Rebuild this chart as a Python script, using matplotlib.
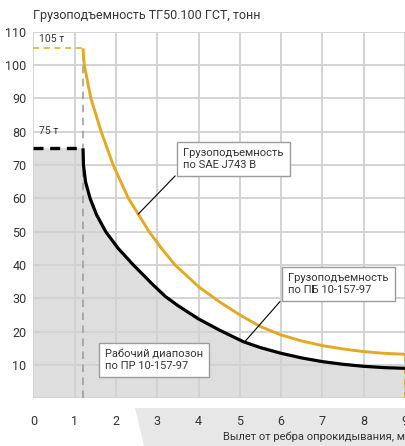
import matplotlib
matplotlib.use("Agg")
import matplotlib.pyplot as plt
from matplotlib.patches import Polygon

plt.rcParams['font.family'] = ['Roboto', 'DejaVu Sans']

# ---- data ----
pb_x = [1.2, 1.21, 1.26, 1.37, 1.53, 1.75, 2.05, 2.42, 2.62, 2.9, 3.2, 3.5, 4.0,
        4.5, 5.08, 5.5, 6.0, 6.5, 7.0, 7.5, 8.0, 8.5, 9.0]
pb_y = [75, 70, 65, 60, 55, 50, 45, 40, 37.5, 34, 30.5, 27.8, 23.8,
        20.5, 17, 15.2, 13.5, 12.1, 11, 10.2, 9.6, 9.2, 9.0]
sae_x = [1.2, 1.23, 1.39, 1.64, 1.93, 2.3, 2.8, 3.1, 3.43, 4.0, 4.5, 5.0, 5.5,
         6.0, 6.5, 7.0, 7.5, 8.0, 8.5, 9.0]
sae_y = [105, 100, 90, 80, 70, 60, 50, 45, 40, 33.5, 29, 25, 21.5,
         19, 17.2, 15.8, 14.8, 14, 13.5, 13.2]
pb_max = 75
sae_max = 105
x_start = 1.2
x_end = 9.0
xticks = [0, 1, 2, 3, 4, 5, 6, 7, 8, 9]
yticks = [0, 10, 20, 30, 40, 50, 60, 70, 80, 90, 100, 110]
ytick_labels = ['', '10', '20', '30', '40', '50', '60', '70', '80', '90', '100', '110']
title = "Грузоподъемность ТГ50.100 ГСТ, тонн"
xlabel = "Вылет от ребра опрокидывания, м"

YEL = '#E2AA24'
TXT = '#333333'

fig = plt.figure(figsize=(4.06, 4.46), dpi=100)
W, H = 406, 446
ax = fig.add_axes([33.5 / W, (H - 398.3) / H, (W - 33.5) / W, (398.3 - 31.7) / H])
ax.set_xlim(0, 9.024)
ax.set_ylim(0, 110)
ax.set_facecolor('white')
for s in ax.spines.values():
    s.set_visible(False)

ax.set_xticks(xticks)
ax.set_yticks(yticks)
ax.set_yticklabels(ytick_labels)
ax.tick_params(length=0, labelsize=9, labelcolor=TXT)
ax.tick_params(axis='x', pad=12)
ax.tick_params(axis='y', pad=5)
ax.set_axisbelow(True)

# working area fill
fx = [0, 0, x_start] + pb_x + [x_end]
fy = [0, pb_max, pb_max] + pb_y + [0]
ax.fill(fx, fy, color='#dedede', lw=0, zorder=0.5)
ax.grid(True, color='#d2d2d2', lw=1.1, zorder=1)
for gx in xticks:
    ax.axvline(gx, color='#d2d2d2', lw=1.1, zorder=1)
for gy in yticks:
    ax.axhline(gy, color='#d2d2d2', lw=1.1, zorder=1)

# vertical gray dashed line
ax.plot([x_start, x_start], [0, sae_max], color='#9a9a9a', lw=1.1,
        dashes=(5, 3.5), zorder=3)
# SAE
ax.plot([0, x_start], [sae_max, sae_max], color=YEL, lw=1.1, dashes=(4, 3), zorder=4)
ax.plot(sae_x, sae_y, color=YEL, lw=2.1, zorder=5, solid_capstyle='butt',
        solid_joinstyle='round')
ax.plot([x_end, x_end], [sae_y[-1], 0], color=YEL, lw=1.3, dashes=(4, 3), zorder=4,
        clip_on=False)
# PB
ax.plot([0, x_start], [pb_max, pb_max], color='black', lw=2.4, dashes=(3, 2), zorder=6)
ax.plot(pb_x, pb_y, color='black', lw=2.3, zorder=6, solid_capstyle='butt',
        solid_joinstyle='round')

ax.text(0.13, 107.7, "105 т", fontsize=7.5, color=TXT, va='center', ha='left', zorder=7)
ax.text(0.13, 80.3, "75 т", fontsize=7.5, color=TXT, va='center', ha='left', zorder=7)

# leader lines
ax.plot([3.43, 2.54], [66.7, 55.3], color='black', lw=0.8, zorder=7)
ax.plot([5.97, 5.12], [29.0, 17.0], color='black', lw=0.8, zorder=7)

box = dict(boxstyle='square,pad=0.55', fc='white', ec='#9c9c9c', lw=1.0)
ax.text(3.63, 71.8, "Грузоподъемность\nпо SAE J743 B", fontsize=8, color=TXT,
        ha='left', va='center', bbox=box, linespacing=1.25, zorder=8)
ax.text(6.17, 34.3, "Грузоподъемность\nпо ПБ 10-157-97", fontsize=8, color=TXT,
        ha='left', va='center', bbox=box, linespacing=1.25, zorder=8)
ax.text(1.73, 11.4, "Рабочий диапозон\nпо ПР 10-157-97", fontsize=8, color=TXT,
        ha='left', va='center', bbox=box, linespacing=1.25, zorder=8)

# title
fig.text(33 / W, 1 - 15 / H, title, fontsize=9, color=TXT, ha='left', va='center')

# x label background trapezoid
trap = Polygon([(135 / W, 1 - 408 / H), (1.0, 1 - 408 / H), (1.0, 0.0), (144 / W, 0.0)],
               closed=True, transform=fig.transFigure, fc='#e7e7e7', ec='none', zorder=-1)
fig.patches.append(trap)
fig.text(405 / W, 1 - 437 / H, xlabel, fontsize=8, color=TXT, ha='right', va='center')

fig.savefig('out.png', dpi=100)
